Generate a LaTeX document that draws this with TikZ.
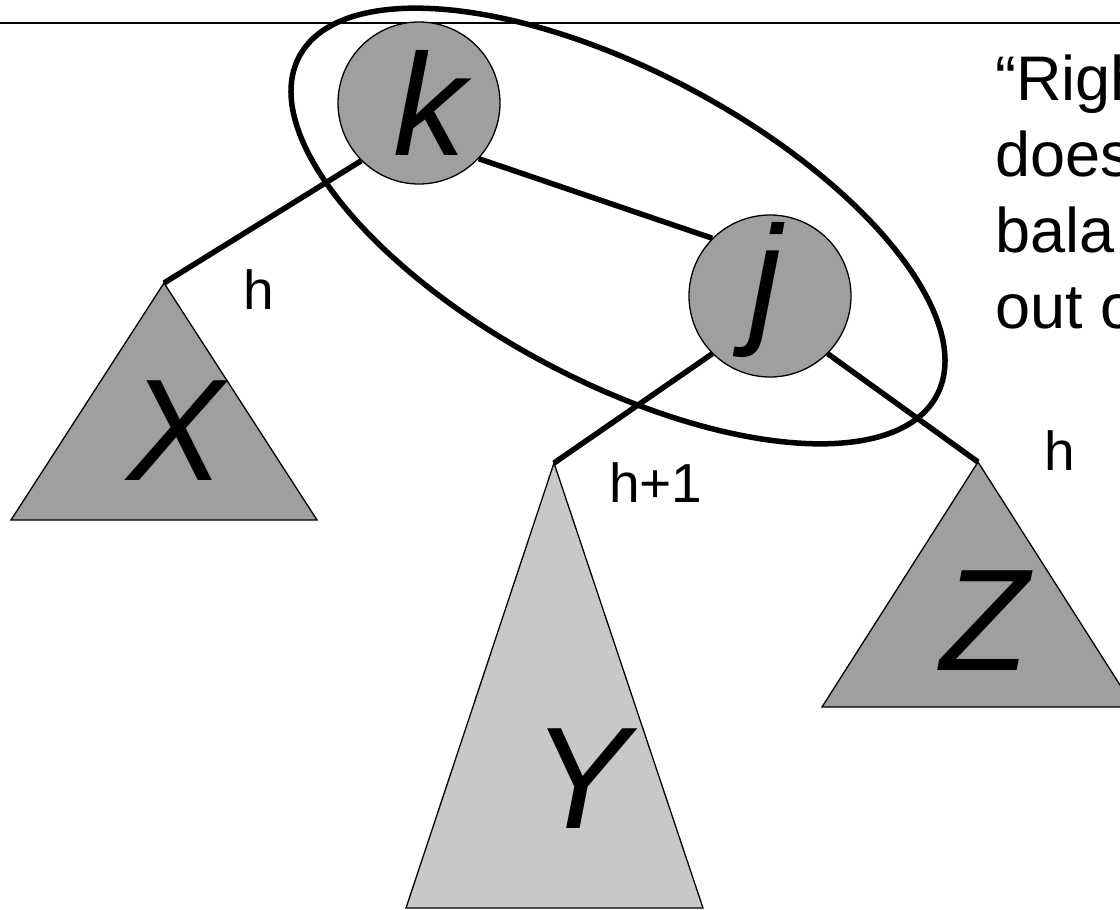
\documentclass[tikz,border=0pt]{standalone}
\usepackage{fontspec}
\setmainfont{Liberation Sans}
\definecolor{dgray}{gray}{0.625}
\definecolor{lgray}{gray}{0.784}
\begin{document}
\begin{tikzpicture}[x=1pt,y=-1pt,
  treenode/.style={circle,draw=black,line width=1.3pt,fill=dgray,minimum size=162pt,inner sep=0pt},
  edge/.style={line width=5.5pt},
  subtree/.style={draw=black,line width=1.3pt,line join=miter},
  bigletter/.style={font=\fontsize{145}{150}\selectfont\itshape,inner sep=0pt,anchor=base},
  hlabel/.style={font=\fontsize{55}{60}\selectfont,inner sep=0pt,anchor=base west},
  note/.style={font=\fontsize{63}{76}\selectfont,inner sep=0pt,anchor=base west}]
\useasboundingbox (0,0) rectangle (1120,910);
\clip (0,0) rectangle (1120,910);
\draw[line width=2pt] (0,23) -- (1120,23);
% subtrees
\coordinate (Xt) at (164,283);
\coordinate (Yt) at (554,463);
\coordinate (Zt) at (978,462);
\filldraw[subtree,fill=dgray] (Xt) -- (11,520) -- (317,520) -- cycle;
\filldraw[subtree,fill=lgray] (Yt) -- (406,908) -- (703,908) -- cycle;
\filldraw[subtree,fill=dgray] (Zt) -- (822,707) -- (1134,707) -- cycle;
% tree nodes
\node[treenode] (k) at (419,103) {};
\node[treenode] (j) at (770,296) {};
% edges
\draw[edge] (k.225) -- (Xt);
\draw[edge] (k.-43) -- (j.135);
\draw[edge] (j.225) -- (Yt);
\draw[edge] (j.-45) -- (Zt);
% letters
\node[bigletter] (kl) at (430,155) {k};
\node[bigletter] (jl) at (766,327) {j};
\node[bigletter] (xl) at (176,480) {X};
\node[bigletter] (yl) at (581,828) {Y};
\node[bigletter] (zl) at (985,670) {Z};
% height labels
\node[hlabel] (h1) at (243,309) {h};
\node[hlabel] (h2) at (609,502) {h+1};
\node[hlabel] (h3) at (1044,470) {h};
% note text
\node[note] (n1) at (995,100) {“Righ};
\node[note] (n2) at (995,176) {does};
\node[note] (n3) at (995,252) {bala};
\node[note] (n4) at (995,328) {out o};
% rotation ellipse
\draw[line width=5.5pt, rotate around={-28:(618,226)}] (618,226) ellipse [x radius=361, y radius=155];
\end{tikzpicture}
\end{document}
